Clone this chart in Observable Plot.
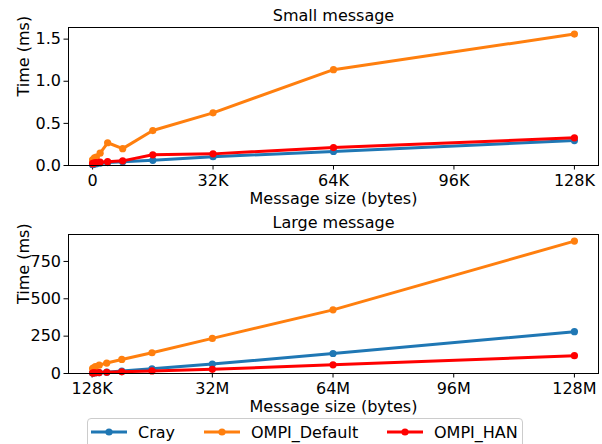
<!DOCTYPE html>
<html>
<head>
<meta charset="utf-8">
<script src="https://cdn.jsdelivr.net/npm/d3@7"></script>
<script src="https://cdn.jsdelivr.net/npm/@observablehq/plot@0.6"></script>
<style>
  html, body { margin: 0; padding: 0; background: #fff; }
  #root { position: relative; width: 602px; height: 444px; overflow: hidden; font-family: "DejaVu Sans", sans-serif; }
  #root svg { display: block; font-family: "DejaVu Sans", sans-serif; }
  .legend { position: absolute; left: 87px; top: 418px; width: 436px; height: 34px;
            border: 1px solid #cccccc; border-radius: 4px; box-sizing: border-box; background: #fff; }
  .legend .item { position: absolute; top: 0; height: 26px; display: flex; align-items: center; font-size: 16px; color: #000; }
  .legend svg { margin-right: 11px; }
</style>
</head>
<body>
<div id="root"></div>
<script>
// Series and their colours
const series = ["Cray", "OMPI_Default", "OMPI_HAN"];
const colors = ["#1f77b4", "#ff7f0e", "#ff0000"];

// Small messages: size in bytes, time in ms
const smallSizes   = [4, 64, 512, 1024, 2048, 4096, 8192, 16384, 32768, 65536, 131072];
const smallCray    = [0.010, 0.012, 0.018, 0.022, 0.028, 0.035, 0.045, 0.062, 0.105, 0.166, 0.296];
const smallDefault = [0.060, 0.070, 0.090, 0.100, 0.146, 0.270, 0.200, 0.415, 0.625, 1.137, 1.560];
const smallHan     = [0.020, 0.025, 0.030, 0.035, 0.040, 0.045, 0.055, 0.127, 0.138, 0.213, 0.328];

// Large messages: size in bytes, time in ms
const largeSizes   = [262144, 524288, 1048576, 2097152, 4194304, 8388608, 16777216, 33554432, 67108864, 134217728];
const largeCray    = [3, 4, 5, 6, 9, 16, 31, 63, 134, 280];
const largeDefault = [32, 38, 46, 56, 70, 94, 139, 235, 426, 886];
const largeHan     = [3, 4, 5, 6, 8, 11, 17, 28, 58, 119];

// Axis ticks
const smallXTicks = [0, 32768, 65536, 98304, 131072];
const smallXLabels = ["0", "32K", "64K", "96K", "128K"];
const smallYTicks = [0, 0.5, 1.0, 1.5];
const largeXTicks = [131072, 33554432, 67108864, 100663296, 134217728];
const largeXLabels = ["128K", "32M", "64M", "96M", "128M"];
const largeYTicks = [0, 250, 500, 750];

function rows(sizes, valuesBySeries) {
  return series.map((name, k) =>
    sizes.map((size, i) => ({series: name, size, time: valuesBySeries[k][i]})));
}

function panel({title, sizes, values, xTicks, xLabels, yTicks, yFormat, marginBottom}) {
  const groups = rows(sizes, values);
  const xmin = d3.min(sizes), xmax = d3.max(sizes);
  const pad = 0.05 * (xmax - xmin);
  const ymax = d3.max(values.flat());
  const marks = [];
  groups.forEach(g => {
    marks.push(Plot.line(g, {x: "size", y: "time", stroke: "series", strokeWidth: 3}));
    marks.push(Plot.dot(g, {x: "size", y: "time", fill: "series", r: 3.6}));
  });
  marks.push(Plot.frame({stroke: "#000", strokeWidth: 1}));
  marks.push(Plot.text([title], {frameAnchor: "top", dy: -7, lineAnchor: "bottom", fontSize: 16}));
  marks.push(Plot.text(["Message size (bytes)"], {frameAnchor: "bottom", dy: 27, lineAnchor: "top", fontSize: 16}));
  marks.push(Plot.text(["Time (ms)"], {frameAnchor: "left", dx: -45, rotate: -90, fontSize: 16}));
  return Plot.plot({
    width: 602,
    height: 207,
    marginTop: 27,
    marginBottom,
    marginLeft: 68,
    marginRight: 4,
    style: "font-family: 'DejaVu Sans', sans-serif; font-size: 16px; background: #fff; color: #000; overflow: visible;",
    x: {domain: [xmin - pad, xmax + pad], ticks: xTicks, tickFormat: d => xLabels[xTicks.indexOf(d)],
        tickSize: 4.5, tickPadding: 5, label: null},
    y: {domain: [0, ymax * 1.05], ticks: yTicks, tickFormat: yFormat, tickSize: 4.5, tickPadding: 3, label: null},
    color: {domain: series, range: colors},
    marks
  });
}

const root = document.getElementById("root");
root.append(panel({
  title: "Small message", sizes: smallSizes, values: [smallCray, smallDefault, smallHan],
  xTicks: smallXTicks, xLabels: smallXLabels, yTicks: smallYTicks, yFormat: d => d.toFixed(1), marginBottom: 42
}));
root.append(panel({
  title: "Large message", sizes: largeSizes, values: [largeCray, largeDefault, largeHan],
  xTicks: largeXTicks, xLabels: largeXLabels, yTicks: largeYTicks, yFormat: d => String(d), marginBottom: 41
}));

// Legend: line with a marker for each series
const legend = document.createElement("div");
legend.className = "legend";
const itemLeft = [3, 116, 299];
series.forEach((name, k) => {
  const item = document.createElement("div");
  item.className = "item";
  item.style.left = itemLeft[k] + "px";
  item.innerHTML =
    `<svg width="36" height="10"><line x1="0" x2="36" y1="5" y2="5" stroke="${colors[k]}" stroke-width="3"/>` +
    `<circle cx="18" cy="5" r="3.6" fill="${colors[k]}"/></svg><span>${name}</span>`;
  legend.append(item);
});
root.append(legend);
</script>
</body>
</html>
